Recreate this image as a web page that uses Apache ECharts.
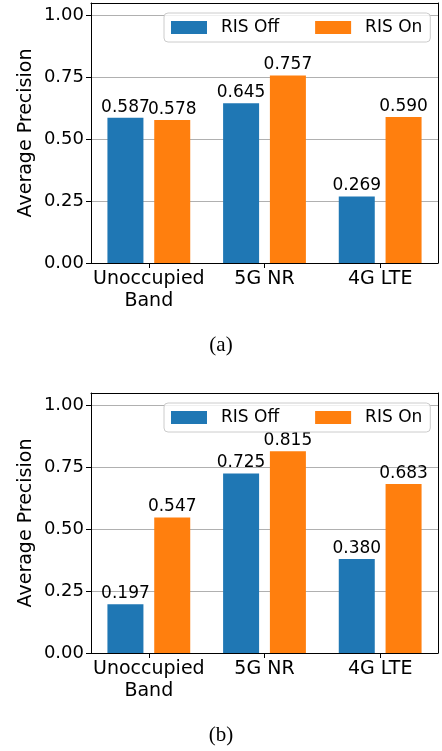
<!DOCTYPE html>
<html>
<head>
<meta charset="utf-8">
<script src="https://cdn.jsdelivr.net/npm/echarts@6/dist/echarts.min.js"></script>
<style>html,body{margin:0;padding:0;background:#fff;}#c{width:442px;height:751px;}</style>
</head>
<body>
<div id="c"></div>
<script>
const categories = ['Unoccupied\nBand', '5G NR', '4G LTE'];
const seriesNames = ['RIS Off', 'RIS On'];
const offA = [0.587, 0.645, 0.269];
const onA = [0.578, 0.757, 0.590];
const offB = [0.197, 0.725, 0.380];
const onB = [0.547, 0.815, 0.683];
const yTicksMax = 1.0;
const captions = ['(a)', '(b)'];

const FONT = 'DejaVu Sans';
const BLUE = '#1f77b4', ORANGE = '#ff7f0e';
const tops = [3, 393];
const chart = echarts.init(document.getElementById('c'), null, {renderer: 'canvas'});

const grids = [], xAxes = [], yAxes = [], series = [], legends = [], titles = [];
tops.forEach((t, i) => {
  grids.push({left: 91, width: 347, top: t, height: 260, containLabel: false});
  xAxes.push({
    type: 'category', gridIndex: i, data: categories, position: 'bottom',
    axisLine: {show: true, onZero: false, lineStyle: {color: '#000', width: 1}},
    axisTick: {show: true, alignWithLabel: true, length: 5, lineStyle: {color: '#000'}},
    axisLabel: {color: '#000', fontFamily: FONT, fontSize: 19, lineHeight: 22, margin: 5, interval: 0},
    splitLine: {show: false}
  });
  xAxes.push({
    type: 'category', gridIndex: i, data: categories, position: 'top',
    axisLine: {show: true, onZero: false, lineStyle: {color: '#000', width: 1}},
    axisTick: {show: false}, axisLabel: {show: false}, splitLine: {show: false}
  });
  yAxes.push({
    type: 'value', gridIndex: i, min: 0, max: 1.05, interval: 0.25, position: 'left',
    name: 'Average Precision', nameLocation: 'middle', nameRotate: 90, nameGap: 55,
    nameMoveOverlap: false,
    nameTextStyle: {color: '#000', fontFamily: FONT, fontSize: 19},
    axisLine: {show: true, onZero: false, lineStyle: {color: '#000', width: 1}},
    axisTick: {show: true, length: 5, lineStyle: {color: '#000'}},
    axisLabel: {color: '#000', fontFamily: FONT, fontSize: 18, margin: 7, showMaxLabel: false,
      formatter: v => v > yTicksMax + 1e-9 ? '' : v.toFixed(2)},
    splitLine: {show: true, showMaxLine: false, lineStyle: {color: '#b0b0b0', width: 1}}
  });
  yAxes.push({
    type: 'value', gridIndex: i, min: 0, max: 1.05, position: 'right',
    axisLine: {show: true, onZero: false, lineStyle: {color: '#000', width: 1}},
    axisTick: {show: false}, axisLabel: {show: false}, splitLine: {show: false}
  });
  const data = i === 0 ? [offA, onA] : [offB, onB];
  [BLUE, ORANGE].forEach((col, k) => {
    series.push({
      type: 'bar', name: seriesNames[k], xAxisIndex: i * 2, yAxisIndex: i * 2,
      data: data[k], barWidth: 36, barGap: '30%',
      itemStyle: {color: col},
      label: {show: true, position: 'top', distance: 2, color: '#000', fontFamily: FONT, fontSize: 17,
        formatter: p => p.value.toFixed(3)}
    });
  });
  legends.push({
    data: seriesNames, left: 164, top: t + 10, width: 300, orient: 'horizontal',
    icon: 'rect', itemWidth: 36, itemHeight: 13, itemGap: 36,
    padding: [6, 8, 6, 7],
    backgroundColor: 'rgba(255,255,255,0.8)', borderColor: '#cccccc', borderWidth: 1, borderRadius: 4,
    textStyle: {color: '#000', fontFamily: FONT, fontSize: 17, padding: [0, 0, 0, 9]},
    selectedMode: false
  });
  titles.push({
    text: captions[i], left: 'center', top: i === 0 ? 330 : 720,
    textStyle: {color: '#000', fontFamily: 'Liberation Serif', fontSize: 21, fontWeight: 'normal'}
  });
});

chart.setOption({
  animation: false,
  backgroundColor: '#fff',
  title: titles,
  legend: legends,
  grid: grids,
  xAxis: xAxes,
  yAxis: yAxes,
  series: series
});
</script>
</body>
</html>
